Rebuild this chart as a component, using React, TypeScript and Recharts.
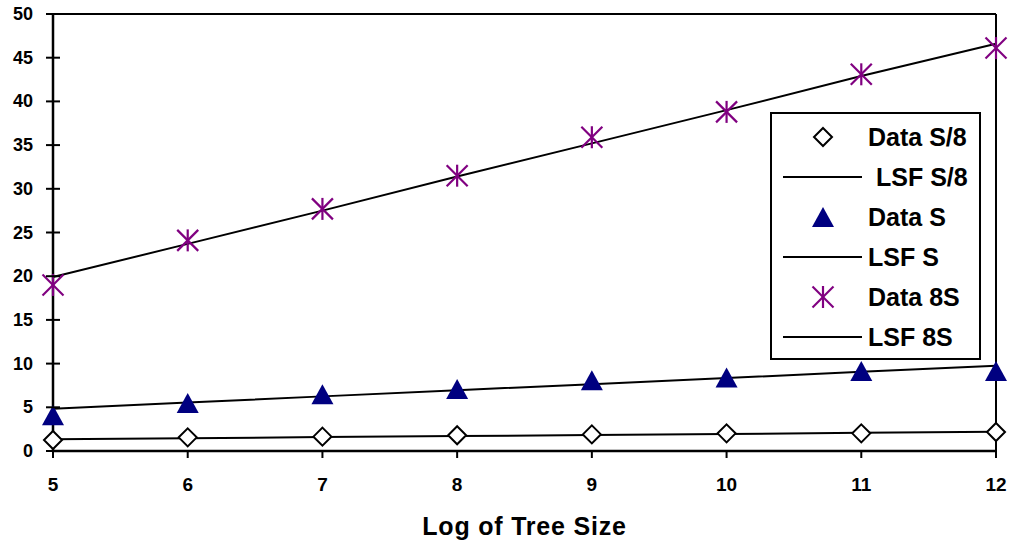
import { ComposedChart, Line, XAxis, YAxis, ReferenceLine } from "recharts";

// Log of tree size
const treeSizeLog = [5, 6, 7, 8, 9, 10, 11, 12];
const xTicks = [5, 6, 7, 8, 9, 10, 11, 12];
const yTicks = [0, 5, 10, 15, 20, 25, 30, 35, 40, 45, 50];

const dataS8 = [1.26, 1.56, 1.64, 1.8, 1.9, 2.02, 2.02, 2.17];
const lsfS8 = [1.34, 1.46, 1.59, 1.71, 1.83, 1.95, 2.08, 2.2];
const dataS = [4.1, 5.5, 6.5, 7.1, 8.1, 8.4, 9.15, 9.15];
const lsfS = [4.84, 5.54, 6.25, 6.95, 7.65, 8.35, 9.06, 9.76];
const data8S = [19.0, 24.1, 27.7, 31.5, 35.9, 38.8, 43.1, 46.1];
const lsf8S = [19.9, 23.7, 27.5, 31.4, 35.2, 39.0, 42.9, 46.6];

const rows = treeSizeLog.map((x, i) => ({
  x,
  dataS8: dataS8[i],
  lsfS8: lsfS8[i],
  dataS: dataS[i],
  lsfS: lsfS[i],
  data8S: data8S[i],
  lsf8S: lsf8S[i],
}));

const NAVY = "#000080";
const PURPLE = "#800080";
const FONT = "'Liberation Sans', Arial, sans-serif";

const Diamond = ({ cx, cy }: any) => {
  if (cx == null || cy == null) return null;
  const r = 9;
  return (
    <polygon
      points={`${cx},${cy - r} ${cx + r},${cy} ${cx},${cy + r} ${cx - r},${cy}`}
      fill="#fff"
      stroke="#000"
      strokeWidth={2}
    />
  );
};

const Triangle = ({ cx, cy }: any) => {
  if (cx == null || cy == null) return null;
  return <polygon points={`${cx},${cy - 10} ${cx + 11},${cy + 10} ${cx - 11},${cy + 10}`} fill={NAVY} />;
};

const Star = ({ cx, cy }: any) => {
  if (cx == null || cy == null) return null;
  const r = 10.5;
  return (
    <g stroke={PURPLE} strokeWidth={2.2}>
      <line x1={cx} y1={cy - r - 0.5} x2={cx} y2={cy + r + 0.5} />
      <line x1={cx - r} y1={cy - r} x2={cx + r} y2={cy + r} />
      <line x1={cx - r} y1={cy + r} x2={cx + r} y2={cy - r} />
    </g>
  );
};

const YTick = ({ x, y, payload }: any) => (
  <g>
    <line x1={x + 13} y1={y} x2={x + 27} y2={y} stroke="#000" strokeWidth={2} />
    <text x={x} y={y} dy={6} textAnchor="end" fontSize={18} fontWeight="bold" fontFamily={FONT} fill="#000">
      {payload.value}
    </text>
  </g>
);

const legendItems = [
  { label: "Data S/8", kind: "diamond", pad: 0 },
  { label: "LSF S/8", kind: "line", pad: 8 },
  { label: "Data S", kind: "triangle", pad: 0 },
  { label: "LSF S", kind: "line", pad: 0 },
  { label: "Data 8S", kind: "star", pad: 0 },
  { label: "LSF 8S", kind: "line", pad: 0 },
];

const LegendBox = () => (
  <div
    style={{
      position: "absolute",
      left: 770,
      top: 112,
      width: 211,
      height: 248,
      boxSizing: "border-box",
      border: "2px solid #000",
      background: "#fff",
      paddingTop: 3,
      fontFamily: FONT,
    }}
  >
    {legendItems.map((it) => (
      <div key={it.label} style={{ height: 40, display: "flex", alignItems: "center" }}>
        <svg width={79} height={40} style={{ marginLeft: 11, flex: "none" }}>
          {it.kind === "line" && <line x1={0} y1={20} x2={79} y2={20} stroke="#000" strokeWidth={2} />}
          {it.kind === "diamond" && <Diamond cx={40} cy={20} />}
          {it.kind === "triangle" && <Triangle cx={40} cy={20} />}
          {it.kind === "star" && <Star cx={40} cy={20} />}
        </svg>
        <span style={{ marginLeft: 6 + it.pad, fontSize: 25, fontWeight: "bold", whiteSpace: "nowrap" }}>
          {it.label}
        </span>
      </div>
    ))}
  </div>
);

export default function App() {
  return (
    <div style={{ position: "absolute", left: 0, top: 0, width: 1010, height: 544, background: "#fff" }}>
      <ComposedChart width={1010} height={544} data={rows} margin={{ top: 14, right: 14, left: 0, bottom: 33 }}>
        <XAxis
          dataKey="x"
          type="number"
          domain={[5, 12]}
          ticks={xTicks}
          interval={0}
          height={60}
          axisLine={{ stroke: "#000", strokeWidth: 2.5 }}
          tickLine={{ stroke: "#000", strokeWidth: 2 }}
          tickSize={7}
          tickMargin={20}
          tick={{ fill: "#000", fontSize: 19, fontWeight: "bold", fontFamily: FONT }}
          label={{
            value: "Log of Tree Size",
            position: "bottom",
            offset: 6,
            style: { fill: "#000", fontSize: 25, fontWeight: "bold", fontFamily: FONT, letterSpacing: 0.8 },
          }}
        />
        <YAxis
          type="number"
          domain={[0, 50]}
          ticks={yTicks}
          interval={0}
          width={53}
          axisLine={{ stroke: "#000", strokeWidth: 2.5 }}
          tickLine={false}
          tickSize={7}
          tickMargin={13}
          tick={<YTick />}
        />
        <ReferenceLine y={50} stroke="#000" strokeWidth={2} />
        <ReferenceLine x={12} stroke="#000" strokeWidth={2} />
        <Line dataKey="lsfS8" type="linear" stroke="#000" strokeWidth={2} dot={false} isAnimationActive={false} />
        <Line dataKey="lsfS" type="linear" stroke="#000" strokeWidth={2} dot={false} isAnimationActive={false} />
        <Line dataKey="lsf8S" type="linear" stroke="#000" strokeWidth={2} dot={false} isAnimationActive={false} />
        <Line dataKey="dataS8" stroke="none" dot={<Diamond />} activeDot={false} isAnimationActive={false} />
        <Line dataKey="dataS" stroke="none" dot={<Triangle />} activeDot={false} isAnimationActive={false} />
        <Line dataKey="data8S" stroke="none" dot={<Star />} activeDot={false} isAnimationActive={false} />
      </ComposedChart>
      <LegendBox />
    </div>
  );
}
